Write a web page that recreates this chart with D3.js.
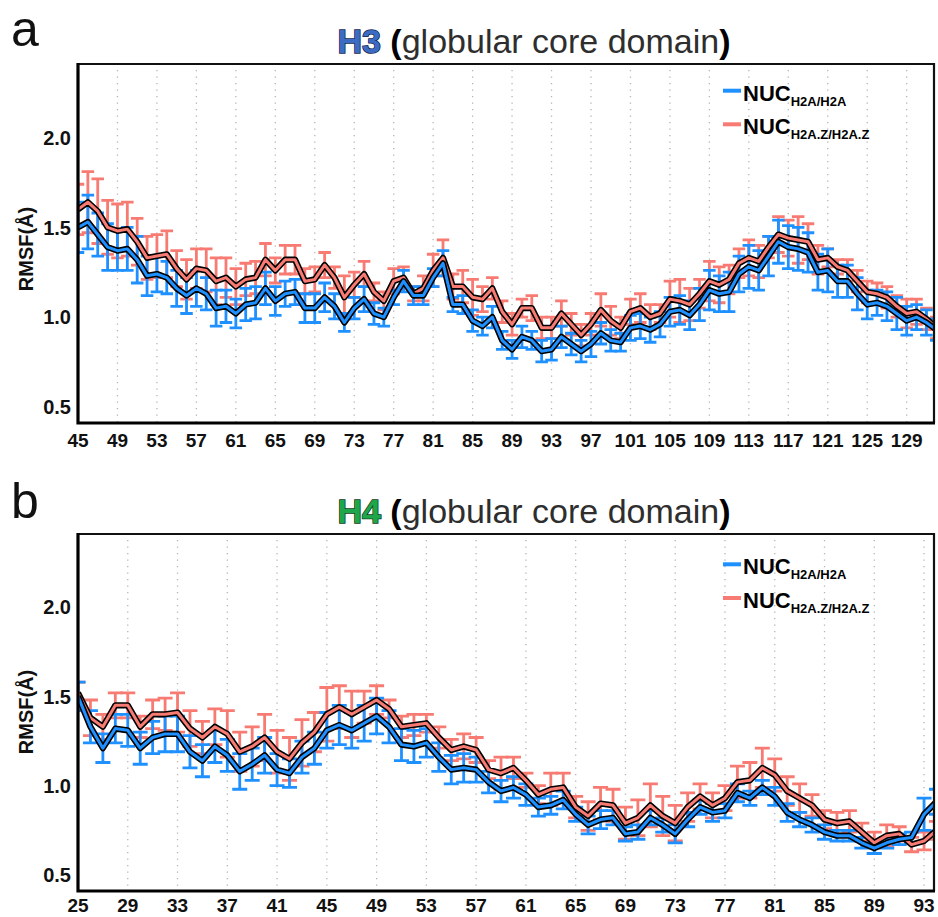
<!DOCTYPE html>
<html>
<head>
<meta charset="utf-8">
<script src="https://cdn.jsdelivr.net/npm/d3@7/dist/d3.min.js"></script>
<style>
  body { margin: 0; background: #fff; }
  svg { display: block; }
</style>
</head>
<body>
<svg id="chart" width="938" height="917"></svg>
<script>
// ---------- H3 globular core (residues 45–132) ----------
const h3Residues = d3.range(45, 133);
const h3Blue = [
  1.50, 1.53, 1.46, 1.39, 1.37, 1.38, 1.32, 1.23, 1.24, 1.22,
  1.16, 1.12, 1.16, 1.13, 1.05, 1.06, 1.02, 1.07, 1.08, 1.16,
  1.09, 1.13, 1.14, 1.05, 1.05, 1.11, 1.06, 0.97, 1.05, 1.10,
  1.02, 1.00, 1.11, 1.20, 1.12, 1.12, 1.22, 1.30, 1.07, 1.07,
  0.98, 0.95, 1.00, 0.87, 0.82, 0.89, 0.87, 0.81, 0.82, 0.89,
  0.85, 0.81, 0.85, 0.91, 0.87, 0.86, 0.94, 0.95, 0.93, 0.96,
  1.03, 1.04, 1.01, 1.07, 1.15, 1.13, 1.14, 1.24, 1.28, 1.26,
  1.34, 1.42, 1.39, 1.38, 1.36, 1.25, 1.26, 1.20, 1.20, 1.13,
  1.07, 1.08, 1.06, 1.02, 0.98, 1.00, 0.97, 0.93
];
const h3BlueErr = [
  0.14, 0.15, 0.12, 0.13, 0.11, 0.12, 0.13, 0.11, 0.10, 0.09,
  0.10, 0.10, 0.10, 0.09, 0.10, 0.09, 0.08, 0.09, 0.09, 0.09,
  0.08, 0.07, 0.07, 0.08, 0.08, 0.08, 0.07, 0.05, 0.06, 0.07,
  0.06, 0.05, 0.04, 0.06, 0.05, 0.05, 0.05, 0.07, 0.04, 0.05,
  0.06, 0.05, 0.06, 0.05, 0.05, 0.06, 0.05, 0.06, 0.06, 0.06,
  0.06, 0.06, 0.07, 0.06, 0.06, 0.05, 0.07, 0.07, 0.07, 0.07,
  0.08, 0.08, 0.08, 0.09, 0.11, 0.10, 0.11, 0.10, 0.12, 0.11,
  0.11, 0.12, 0.12, 0.12, 0.11, 0.10, 0.12, 0.09, 0.09, 0.09,
  0.08, 0.07, 0.08, 0.09, 0.08, 0.07, 0.07, 0.06
];
const h3Red = [
  1.60, 1.64, 1.59, 1.50, 1.48, 1.49, 1.42, 1.33, 1.34, 1.35,
  1.27, 1.21, 1.27, 1.26, 1.20, 1.22, 1.17, 1.21, 1.22, 1.32,
  1.26, 1.32, 1.32, 1.20, 1.21, 1.29, 1.22, 1.11, 1.18, 1.24,
  1.14, 1.09, 1.20, 1.22, 1.13, 1.16, 1.26, 1.33, 1.17, 1.17,
  1.11, 1.10, 1.16, 1.03, 0.96, 1.05, 1.05, 0.94, 0.94, 1.02,
  0.96, 0.90, 0.96, 1.04, 0.98, 0.94, 1.03, 1.05, 1.00, 1.02,
  1.10, 1.09, 1.07, 1.13, 1.20, 1.18, 1.21, 1.30, 1.33, 1.31,
  1.39, 1.46, 1.44, 1.43, 1.42, 1.32, 1.33, 1.28, 1.26, 1.20,
  1.14, 1.13, 1.11, 1.06, 1.02, 1.03, 0.99, 0.94
];
const h3RedErr = [
  0.14, 0.17, 0.18, 0.15, 0.15, 0.15, 0.13, 0.12, 0.12, 0.13,
  0.10, 0.11, 0.11, 0.12, 0.13, 0.11, 0.10, 0.09, 0.09, 0.09,
  0.07, 0.08, 0.08, 0.07, 0.07, 0.07, 0.06, 0.12, 0.07, 0.07,
  0.05, 0.05, 0.07, 0.06, 0.04, 0.07, 0.09, 0.10, 0.07, 0.09,
  0.10, 0.07, 0.06, 0.06, 0.06, 0.05, 0.07, 0.06, 0.06, 0.07,
  0.06, 0.06, 0.06, 0.09, 0.08, 0.06, 0.07, 0.08, 0.07, 0.05,
  0.10, 0.12, 0.09, 0.08, 0.11, 0.10, 0.08, 0.08, 0.10, 0.09,
  0.06, 0.10, 0.10, 0.13, 0.10, 0.08, 0.05, 0.04, 0.06, 0.06,
  0.06, 0.06, 0.06, 0.06, 0.08, 0.07, 0.06, 0.06
];
const h3Ticks = [45, 49, 53, 57, 61, 65, 69, 73, 77, 81, 85, 89, 93, 97, 101, 105, 109, 113, 117, 121, 125, 129];

// ---------- H4 globular core (residues 25–94) ----------
const h4Residues = d3.range(25, 95);
const h4Blue = [
  1.50, 1.33, 1.21, 1.32, 1.31, 1.21, 1.27, 1.29, 1.29, 1.19,
  1.14, 1.22, 1.17, 1.08, 1.12, 1.17, 1.09, 1.07, 1.16, 1.21,
  1.31, 1.34, 1.31, 1.35, 1.39, 1.33, 1.23, 1.22, 1.24, 1.16,
  1.09, 1.10, 1.09, 1.02, 0.97, 0.99, 0.95, 0.88, 0.89, 0.92,
  0.84, 0.78, 0.81, 0.82, 0.73, 0.74, 0.82, 0.78, 0.73, 0.81,
  0.88, 0.85, 0.86, 0.96, 0.93, 0.99, 0.94, 0.85, 0.81, 0.78,
  0.74, 0.72, 0.72, 0.68, 0.65, 0.68, 0.70, 0.71, 0.84, 0.91
];
const h4BlueErr = [
  0.08, 0.09, 0.08, 0.08, 0.09, 0.09, 0.09, 0.10, 0.10, 0.09,
  0.09, 0.09, 0.09, 0.10, 0.09, 0.10, 0.09, 0.08, 0.09, 0.09,
  0.10, 0.11, 0.10, 0.10, 0.10, 0.09, 0.09, 0.09, 0.08, 0.08,
  0.08, 0.08, 0.07, 0.06, 0.06, 0.06, 0.06, 0.05, 0.05, 0.05,
  0.04, 0.05, 0.05, 0.04, 0.04, 0.04, 0.04, 0.04, 0.05, 0.04,
  0.04, 0.05, 0.04, 0.05, 0.04, 0.04, 0.05, 0.05, 0.04, 0.04,
  0.04, 0.03, 0.03, 0.03, 0.03, 0.03, 0.03, 0.03, 0.09, 0.07
];
const h4Red = [
  1.52, 1.38, 1.33, 1.45, 1.45, 1.33, 1.40, 1.40, 1.41, 1.32,
  1.27, 1.33, 1.29, 1.19, 1.22, 1.27, 1.19, 1.15, 1.24, 1.30,
  1.40, 1.44, 1.40, 1.44, 1.48, 1.43, 1.33, 1.34, 1.35, 1.27,
  1.20, 1.22, 1.20, 1.09, 1.07, 1.10, 1.03, 0.95, 0.98, 0.99,
  0.88, 0.83, 0.90, 0.89, 0.79, 0.82, 0.89, 0.83, 0.79, 0.88,
  0.94, 0.89, 0.93, 1.02, 1.03, 1.10, 1.06, 0.97, 0.93, 0.89,
  0.81, 0.79, 0.80, 0.74, 0.68, 0.72, 0.73, 0.67, 0.69, 0.75
];
const h4RedErr = [
  0.06, 0.10, 0.07, 0.07, 0.07, 0.06, 0.08, 0.09, 0.11, 0.10,
  0.09, 0.10, 0.13, 0.11, 0.11, 0.13, 0.12, 0.12, 0.13, 0.11,
  0.15, 0.12, 0.13, 0.09, 0.08, 0.05, 0.06, 0.06, 0.05, 0.06,
  0.06, 0.07, 0.07, 0.05, 0.09, 0.06, 0.04, 0.05, 0.09, 0.08,
  0.06, 0.08, 0.09, 0.09, 0.09, 0.10, 0.12, 0.11, 0.10, 0.08,
  0.07, 0.07, 0.07, 0.09, 0.10, 0.11, 0.09, 0.08, 0.08, 0.06,
  0.05, 0.06, 0.06, 0.05, 0.06, 0.06, 0.04, 0.04, 0.05, 0.05
];
const h4Ticks = [25, 29, 33, 37, 41, 45, 49, 53, 57, 61, 65, 69, 73, 77, 81, 85, 89, 93];

const yTicks = [0.5, 1.0, 1.5, 2.0];
const seriesNames = ["H2A/H2A", "H2A.Z/H2A.Z"];

// ---------- styling ----------
const BLUE = "#1e90ff";
const RED = "#f77b72";
const LEFT = 78, RIGHT = 934;
const sans = "'Liberation Sans', Arial, sans-serif";
const narrow = "'Liberation Sans Narrow', 'Liberation Sans', Arial, sans-serif";

const panels = [
  {
    letter: "a", letterY: 46, name: "H3", nameFill: "#3b6bc2", nameStroke: "#14264d", titleY: 53,
    residues: h3Residues, blue: h3Blue, blueErr: h3BlueErr, red: h3Red, redErr: h3RedErr,
    ticks: h3Ticks, xMax: 131.77, top: 64, bottom: 423, cap: 12.5, axisTitleY: 249,
    tickY: 447, legend: [90.7, 124.3]
  },
  {
    letter: "b", letterY: 518, name: "H4", nameFill: "#1ea64b", nameStroke: "#0d3a1a", titleY: 523,
    residues: h4Residues, blue: h4Blue, blueErr: h4BlueErr, red: h4Red, redErr: h4RedErr,
    ticks: h4Ticks, xMax: 93.8, top: 534, bottom: 891, cap: 15, axisTitleY: 712,
    tickY: 912, legend: [564.3, 598]
  }
];

const svg = d3.select("#chart");

panels.forEach((p, i) => {
  const x = d3.scaleLinear().domain([p.residues[0], p.xMax]).range([LEFT, RIGHT]);
  const y = d3.scaleLinear().domain([0.41, 2.41]).range([p.bottom, p.top]);
  const g = svg.append("g");

  // panel letter
  g.append("text")
    .attr("x", 11).attr("y", p.letterY)
    .attr("font-family", sans)
    .attr("font-size", 50).attr("fill", "#111")
    .text(p.letter);

  // title
  const t = g.append("text")
    .attr("x", 534).attr("y", p.titleY)
    .attr("text-anchor", "middle")
    .attr("font-family", sans).attr("font-size", 34);
  t.append("tspan").attr("font-weight", "bold").attr("fill", p.nameFill)
    .attr("stroke", p.nameStroke).attr("stroke-width", 1.5).attr("paint-order", "stroke")
    .text(p.name);
  t.append("tspan").text(" ");
  t.append("tspan").attr("font-weight", "bold").attr("fill", "#000").text("(");
  t.append("tspan").attr("fill", "#2e2e2e").text("globular core domain");
  t.append("tspan").attr("font-weight", "bold").attr("fill", "#000").text(")");

  // clip region
  const clipId = "clip" + i;
  svg.append("clipPath").attr("id", clipId)
    .append("rect").attr("x", LEFT).attr("y", p.top)
    .attr("width", RIGHT - LEFT).attr("height", p.bottom - p.top);

  // dotted vertical grid
  g.append("g").selectAll("line")
    .data(p.ticks.slice(1))
    .join("line")
    .attr("x1", d => x(d)).attr("x2", d => x(d))
    .attr("y1", p.top + 6).attr("y2", p.bottom)
    .attr("stroke", "#b4b4b4").attr("stroke-width", 1.3)
    .attr("stroke-dasharray", "1.3 5.2");

  const plot = g.append("g").attr("clip-path", `url(#${clipId})`);

  const drawErr = (vals, errs, color) => {
    const eg = plot.append("g").attr("stroke", color).attr("stroke-width", 2.8).attr("fill", "none");
    const rows = p.residues.map((r, k) => ({ r, v: vals[k], e: errs[k] }));
    eg.selectAll("path").data(rows).join("path")
      .attr("d", d => {
        const cx = x(d.r), y0 = y(d.v - d.e), y1 = y(d.v + d.e), h = p.cap / 2;
        return `M${cx},${y0}V${y1}M${cx - h},${y1}H${cx + h}M${cx - h},${y0}H${cx + h}`;
      });
  };
  drawErr(p.red, p.redErr, RED);
  drawErr(p.blue, p.blueErr, BLUE);

  const line = d3.line().x(d => x(d[0])).y(d => y(d[1]));
  const drawLine = (vals, color) => {
    const pts = p.residues.map((r, k) => [r, vals[k]]);
    plot.append("path").datum(pts).attr("d", line)
      .attr("fill", "none").attr("stroke", "#000").attr("stroke-width", 6.2)
      .attr("stroke-linejoin", "round");
    plot.append("path").datum(pts).attr("d", line)
      .attr("fill", "none").attr("stroke", color).attr("stroke-width", 3)
      .attr("stroke-linejoin", "round");
  };
  drawLine(p.red, RED);
  drawLine(p.blue, BLUE);

  // frame
  g.append("path")
    .attr("d", `M${LEFT},${p.top}H${RIGHT}V${p.bottom}`)
    .attr("fill", "none").attr("stroke", "#111").attr("stroke-width", 2.2);
  g.append("path")
    .attr("d", `M${LEFT},${p.top - 1}V${p.bottom}H${RIGHT + 1}`)
    .attr("fill", "none").attr("stroke", "#000").attr("stroke-width", 3.2);

  // y tick labels
  g.append("g").selectAll("text").data(yTicks).join("text")
    .attr("x", 71).attr("y", d => y(d)).attr("dy", "0.36em")
    .attr("text-anchor", "end")
    .attr("font-family", narrow).attr("font-weight", "bold").attr("font-size", 20)
    .attr("fill", "#111")
    .text(d3.format(".1f"));

  // x tick labels
  g.append("g").selectAll("text").data(p.ticks).join("text")
    .attr("x", d => x(d)).attr("y", p.tickY)
    .attr("text-anchor", "middle")
    .attr("font-family", narrow).attr("font-weight", "bold").attr("font-size", 19)
    .attr("fill", "#111")
    .text(d => d);

  // y axis title
  g.append("text")
    .attr("transform", `translate(33,${p.axisTitleY}) rotate(-90)`)
    .attr("text-anchor", "middle")
    .attr("font-family", sans).attr("font-weight", "bold").attr("font-size", 20)
    .attr("fill", "#111")
    .text("RMSF(Å)");

  // legend
  [BLUE, RED].forEach((c, k) => {
    const ly = p.legend[k];
    g.append("line")
      .attr("x1", 723).attr("x2", 741).attr("y1", ly).attr("y2", ly)
      .attr("stroke", c).attr("stroke-width", 4);
    const lt = g.append("text")
      .attr("x", 743).attr("y", ly + 10)
      .attr("font-family", sans).attr("font-weight", "bold").attr("fill", "#000");
    lt.append("tspan").attr("font-size", 22).text("NUC");
    lt.append("tspan").attr("font-size", 13).attr("dy", 5).text(seriesNames[k]);
  });
});
</script>
</body>
</html>
